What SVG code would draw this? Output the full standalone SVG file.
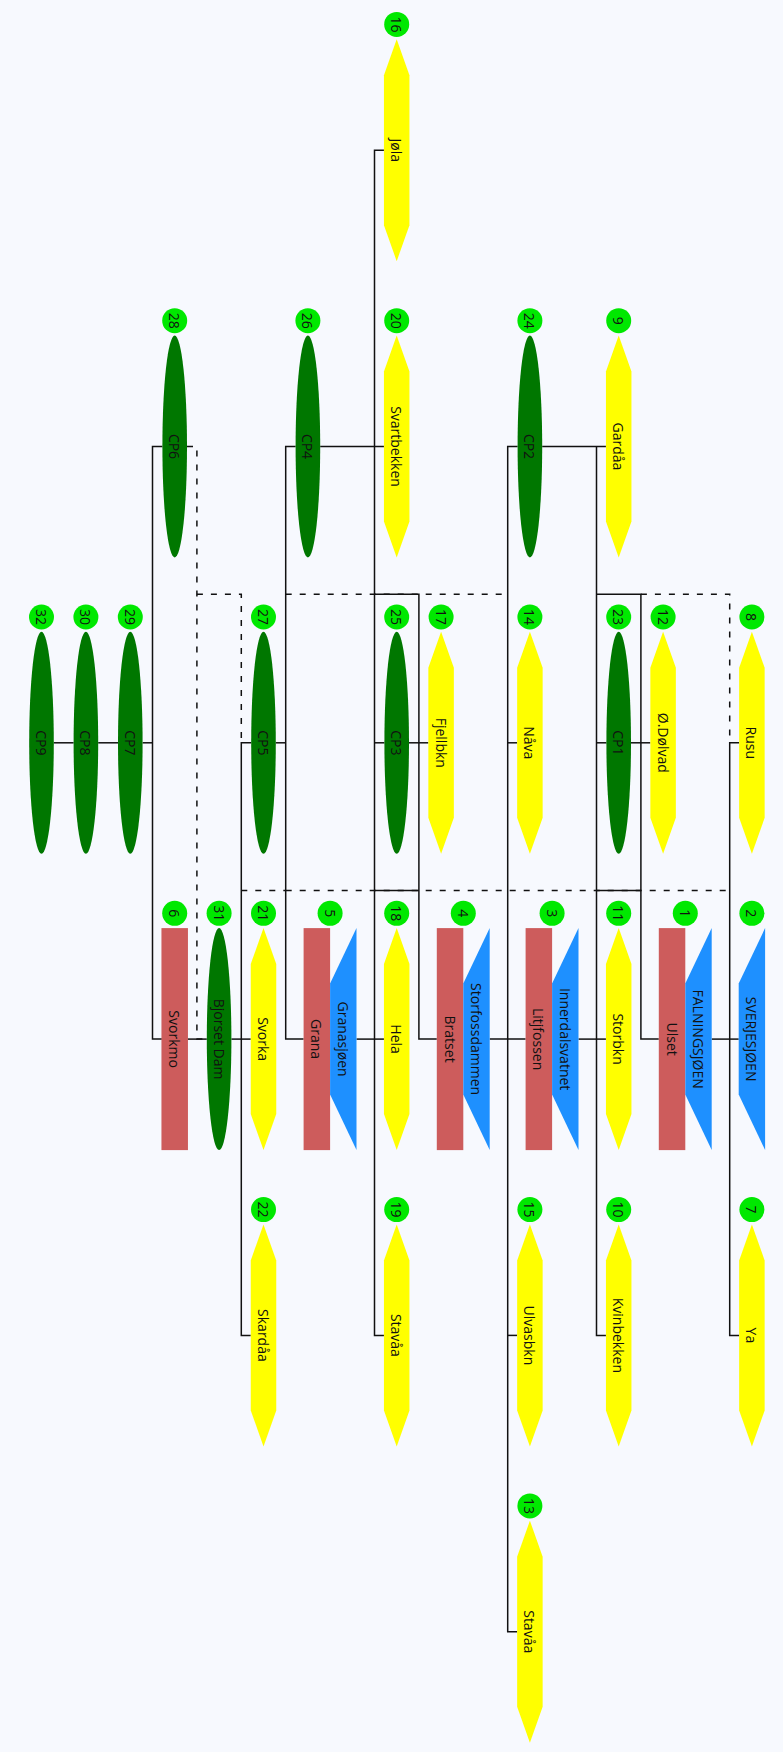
<svg xmlns="http://www.w3.org/2000/svg" xmlns:xlink="http://www.w3.org/1999/xlink" width="783" height="1752" viewBox="0 0 783 1752">
  <style>
    .bg { fill: #F7F9FE; }
    .river { fill: #FFFF00; }
    .cp { fill: #007700; }
    .plant { fill: #CD5C5C; }
    .res { fill: #1E90FF; }
    .tag { fill: #00E800; }
    text { font-family: "Open Sans", "Liberation Sans", sans-serif; fill: #111; text-anchor: middle; dominant-baseline: central; }
    .lbl { font-size: 14px; }
    .num { font-size: 14px; }
    .solid { fill: none; stroke: #111; stroke-width: 1.5; }
    .dash { fill: none; stroke: #111; stroke-width: 1.5; stroke-dasharray: 6 8; }
  </style>
  <defs>
    <!-- shapes are defined around their own centre -->
    <polygon id="hex" points="0,-111 12.75,-75 12.75,75 0,111 -12.75,75 -12.75,-75"/>
    <polygon id="trap" points="13.2,-111 13.2,111 -13.2,55.5 -13.2,-55.5"/>
    <rect id="box" x="-13.25" y="-111" width="26.5" height="222"/>
    <ellipse id="oval" cx="0" cy="0" rx="12.3" ry="111"/>
    <circle id="badge" cx="0" cy="0" r="12.5"/>
  </defs>

  <rect class="bg" x="0" y="0" width="783" height="1752"/>

  <!-- connectors -->
  <g id="connectors">
    <path class="solid" d="M53.8,742.8 H73.6"/>
    <path class="solid" d="M98.2,742.8 H118"/>
    <path class="solid" d="M142.6,742.8 H152.5"/>
    <path class="solid" d="M162.4,446.5 H152.5 V1039.1 H161.9"/>
    <path class="solid" d="M187.5,1039.1 H206.8"/>
    <path class="solid" d="M231.4,1039.1 H250.75"/>
    <path class="solid" d="M251.2,742.8 H241.3 V1335.4 H250.75"/>
    <path class="solid" d="M275.8,742.8 H285.7"/>
    <path class="solid" d="M295.6,446.5 H285.7 V1039.1 H303.6"/>
    <path class="solid" d="M320.2,446.5 H383.95"/>
    <path class="solid" d="M383.95,150.2 H374.5 V1335.4 H383.95"/>
    <path class="solid" d="M384.4,742.8 H374.5"/>
    <path class="solid" d="M356.5,1039.1 H383.95"/>
    <path class="solid" d="M374.5,594.3 H418.9 V1039.1 H436.8"/>
    <path class="solid" d="M374.5,890.6 H418.9"/>
    <path class="solid" d="M409,742.8 H428.35"/>
    <path class="solid" d="M517.6,446.5 H507.7 V1631.7 H517.15"/>
    <path class="solid" d="M542.2,446.5 H605.95"/>
    <path class="solid" d="M517.15,742.8 H507.7"/>
    <path class="solid" d="M489.7,1039.1 H525.6"/>
    <path class="solid" d="M517.15,1335.4 H507.7"/>
    <path class="solid" d="M596.5,446.5 V1335.4 H605.95"/>
    <path class="solid" d="M606.4,742.8 H596.5"/>
    <path class="solid" d="M578.5,1039.1 H605.95"/>
    <path class="solid" d="M596.5,594.3 H640.9 V1039.1 H658.8"/>
    <path class="solid" d="M596.5,890.6 H640.9"/>
    <path class="solid" d="M631,742.8 H650.35"/>
    <path class="solid" d="M739.15,742.8 H729.7 V1335.4 H739.15"/>
    <path class="solid" d="M711.7,1039.1 H738.7"/>

    <path class="dash" d="M187,446.5 H196.9 V1039.1 H206.8"/>
    <path class="dash" d="M196.9,594.3 H241.3 V742.8"/>
    <path class="dash" d="M285.7,594.3 H507.7"/>
    <path class="dash" d="M640.9,594.3 H729.7 V742.8"/>
    <path class="dash" d="M241.3,890.6 H285.7"/>
    <path class="dash" d="M285.7,890.6 H729.7"/>
  </g>

  <!-- row 0 -->
  <g id="n16">
    <use xlink:href="#hex" class="river" x="396.7" y="150.2"/>
    <use xlink:href="#badge" class="tag" x="396.7" y="24.4"/>
    <text class="num" transform="translate(396.7,24.4) rotate(90)">16</text>
    <text class="lbl" transform="translate(396.7,150.2) rotate(90)">Jøla</text>
  </g>

  <!-- row 1 -->
  <g id="n28">
    <use xlink:href="#oval" class="cp" x="174.7" y="446.5"/>
    <use xlink:href="#badge" class="tag" x="174.7" y="320.7"/>
    <text class="num" transform="translate(174.7,320.7) rotate(90)">28</text>
    <text class="lbl" transform="translate(174.7,446.5) rotate(90)">CP6</text>
  </g>
  <g id="n26">
    <use xlink:href="#oval" class="cp" x="307.9" y="446.5"/>
    <use xlink:href="#badge" class="tag" x="307.9" y="320.7"/>
    <text class="num" transform="translate(307.9,320.7) rotate(90)">26</text>
    <text class="lbl" transform="translate(307.9,446.5) rotate(90)">CP4</text>
  </g>
  <g id="n20">
    <use xlink:href="#hex" class="river" x="396.7" y="446.5"/>
    <use xlink:href="#badge" class="tag" x="396.7" y="320.7"/>
    <text class="num" transform="translate(396.7,320.7) rotate(90)">20</text>
    <text class="lbl" transform="translate(396.7,446.5) rotate(90)">Svartbekken</text>
  </g>
  <g id="n24">
    <use xlink:href="#oval" class="cp" x="529.9" y="446.5"/>
    <use xlink:href="#badge" class="tag" x="529.9" y="320.7"/>
    <text class="num" transform="translate(529.9,320.7) rotate(90)">24</text>
    <text class="lbl" transform="translate(529.9,446.5) rotate(90)">CP2</text>
  </g>
  <g id="n9">
    <use xlink:href="#hex" class="river" x="618.7" y="446.5"/>
    <use xlink:href="#badge" class="tag" x="618.7" y="320.7"/>
    <text class="num" transform="translate(618.7,320.7) rotate(90)">9</text>
    <text class="lbl" transform="translate(618.7,446.5) rotate(90)">Gardåa</text>
  </g>

  <!-- row 2 -->
  <g id="n32">
    <use xlink:href="#oval" class="cp" x="41.5" y="742.8"/>
    <use xlink:href="#badge" class="tag" x="41.5" y="617"/>
    <text class="num" transform="translate(41.5,617) rotate(90)">32</text>
    <text class="lbl" transform="translate(41.5,742.8) rotate(90)">CP9</text>
  </g>
  <g id="n30">
    <use xlink:href="#oval" class="cp" x="85.9" y="742.8"/>
    <use xlink:href="#badge" class="tag" x="85.9" y="617"/>
    <text class="num" transform="translate(85.9,617) rotate(90)">30</text>
    <text class="lbl" transform="translate(85.9,742.8) rotate(90)">CP8</text>
  </g>
  <g id="n29">
    <use xlink:href="#oval" class="cp" x="130.3" y="742.8"/>
    <use xlink:href="#badge" class="tag" x="130.3" y="617"/>
    <text class="num" transform="translate(130.3,617) rotate(90)">29</text>
    <text class="lbl" transform="translate(130.3,742.8) rotate(90)">CP7</text>
  </g>
  <g id="n27">
    <use xlink:href="#oval" class="cp" x="263.5" y="742.8"/>
    <use xlink:href="#badge" class="tag" x="263.5" y="617"/>
    <text class="num" transform="translate(263.5,617) rotate(90)">27</text>
    <text class="lbl" transform="translate(263.5,742.8) rotate(90)">CP5</text>
  </g>
  <g id="n25">
    <use xlink:href="#oval" class="cp" x="396.7" y="742.8"/>
    <use xlink:href="#badge" class="tag" x="396.7" y="617"/>
    <text class="num" transform="translate(396.7,617) rotate(90)">25</text>
    <text class="lbl" transform="translate(396.7,742.8) rotate(90)">CP3</text>
  </g>
  <g id="n17">
    <use xlink:href="#hex" class="river" x="441.1" y="742.8"/>
    <use xlink:href="#badge" class="tag" x="441.1" y="617"/>
    <text class="num" transform="translate(441.1,617) rotate(90)">17</text>
    <text class="lbl" transform="translate(441.1,742.8) rotate(90)">Fjellbkn</text>
  </g>
  <g id="n14">
    <use xlink:href="#hex" class="river" x="529.9" y="742.8"/>
    <use xlink:href="#badge" class="tag" x="529.9" y="617"/>
    <text class="num" transform="translate(529.9,617) rotate(90)">14</text>
    <text class="lbl" transform="translate(529.9,742.8) rotate(90)">Nåva</text>
  </g>
  <g id="n23">
    <use xlink:href="#oval" class="cp" x="618.7" y="742.8"/>
    <use xlink:href="#badge" class="tag" x="618.7" y="617"/>
    <text class="num" transform="translate(618.7,617) rotate(90)">23</text>
    <text class="lbl" transform="translate(618.7,742.8) rotate(90)">CP1</text>
  </g>
  <g id="n12">
    <use xlink:href="#hex" class="river" x="663.1" y="742.8"/>
    <use xlink:href="#badge" class="tag" x="663.1" y="617"/>
    <text class="num" transform="translate(663.1,617) rotate(90)">12</text>
    <text class="lbl" transform="translate(663.1,742.8) rotate(90)">Ø.Dølvad</text>
  </g>
  <g id="n8">
    <use xlink:href="#hex" class="river" x="751.9" y="742.8"/>
    <use xlink:href="#badge" class="tag" x="751.9" y="617"/>
    <text class="num" transform="translate(751.9,617) rotate(90)">8</text>
    <text class="lbl" transform="translate(751.9,742.8) rotate(90)">Rusu</text>
  </g>

  <!-- row 3 -->
  <g id="n6">
    <use xlink:href="#box" class="plant" x="174.7" y="1039.1"/>
    <use xlink:href="#badge" class="tag" x="174.7" y="913.3"/>
    <text class="num" transform="translate(174.7,913.3) rotate(90)">6</text>
    <text class="lbl" transform="translate(174.7,1039.1) rotate(90)">Svorkmo</text>
  </g>
  <g id="n31">
    <use xlink:href="#oval" class="cp" x="219.1" y="1039.1"/>
    <use xlink:href="#badge" class="tag" x="219.1" y="913.3"/>
    <text class="num" transform="translate(219.1,913.3) rotate(90)">31</text>
    <text class="lbl" transform="translate(219.1,1039.1) rotate(90)">Bjorset Dam</text>
  </g>
  <g id="n21">
    <use xlink:href="#hex" class="river" x="263.5" y="1039.1"/>
    <use xlink:href="#badge" class="tag" x="263.5" y="913.3"/>
    <text class="num" transform="translate(263.5,913.3) rotate(90)">21</text>
    <text class="lbl" transform="translate(263.5,1039.1) rotate(90)">Svorka</text>
  </g>
  <g id="n5">
    <use xlink:href="#box" class="plant" x="316.85" y="1039.1"/>
    <use xlink:href="#trap" class="res" x="343.3" y="1039.1"/>
    <use xlink:href="#badge" class="tag" x="330.1" y="913.3"/>
    <text class="num" transform="translate(330.1,913.3) rotate(90)">5</text>
    <text class="lbl" transform="translate(316.85,1039.1) rotate(90)">Grana</text>
    <text class="lbl" transform="translate(343.3,1039.1) rotate(90)">Granasjøen</text>
  </g>
  <g id="n18">
    <use xlink:href="#hex" class="river" x="396.7" y="1039.1"/>
    <use xlink:href="#badge" class="tag" x="396.7" y="913.3"/>
    <text class="num" transform="translate(396.7,913.3) rotate(90)">18</text>
    <text class="lbl" transform="translate(396.7,1039.1) rotate(90)">Hela</text>
  </g>
  <g id="n4">
    <use xlink:href="#box" class="plant" x="450.05" y="1039.1"/>
    <use xlink:href="#trap" class="res" x="476.5" y="1039.1"/>
    <use xlink:href="#badge" class="tag" x="463.3" y="913.3"/>
    <text class="num" transform="translate(463.3,913.3) rotate(90)">4</text>
    <text class="lbl" transform="translate(450.05,1039.1) rotate(90)">Bratset</text>
    <text class="lbl" transform="translate(476.5,1039.1) rotate(90)">Storfossdammen</text>
  </g>
  <g id="n3">
    <use xlink:href="#box" class="plant" x="538.85" y="1039.1"/>
    <use xlink:href="#trap" class="res" x="565.3" y="1039.1"/>
    <use xlink:href="#badge" class="tag" x="552.1" y="913.3"/>
    <text class="num" transform="translate(552.1,913.3) rotate(90)">3</text>
    <text class="lbl" transform="translate(538.85,1039.1) rotate(90)">Litjfossen</text>
    <text class="lbl" transform="translate(565.3,1039.1) rotate(90)">Innerdalsvatnet</text>
  </g>
  <g id="n11">
    <use xlink:href="#hex" class="river" x="618.7" y="1039.1"/>
    <use xlink:href="#badge" class="tag" x="618.7" y="913.3"/>
    <text class="num" transform="translate(618.7,913.3) rotate(90)">11</text>
    <text class="lbl" transform="translate(618.7,1039.1) rotate(90)">Storbkn</text>
  </g>
  <g id="n1">
    <use xlink:href="#box" class="plant" x="672.05" y="1039.1"/>
    <use xlink:href="#trap" class="res" x="698.5" y="1039.1"/>
    <use xlink:href="#badge" class="tag" x="685.3" y="913.3"/>
    <text class="num" transform="translate(685.3,913.3) rotate(90)">1</text>
    <text class="lbl" transform="translate(672.05,1039.1) rotate(90)">Ulset</text>
    <text class="lbl" transform="translate(698.5,1039.1) rotate(90)">FALNINGSJØEN</text>
  </g>
  <g id="n2">
    <use xlink:href="#trap" class="res" x="751.9" y="1039.1"/>
    <use xlink:href="#badge" class="tag" x="751.9" y="913.3"/>
    <text class="num" transform="translate(751.9,913.3) rotate(90)">2</text>
    <text class="lbl" transform="translate(751.9,1039.1) rotate(90)">SVERJESJØEN</text>
  </g>

  <!-- row 4 -->
  <g id="n22">
    <use xlink:href="#hex" class="river" x="263.5" y="1335.4"/>
    <use xlink:href="#badge" class="tag" x="263.5" y="1209.6"/>
    <text class="num" transform="translate(263.5,1209.6) rotate(90)">22</text>
    <text class="lbl" transform="translate(263.5,1335.4) rotate(90)">Skardåa</text>
  </g>
  <g id="n19">
    <use xlink:href="#hex" class="river" x="396.7" y="1335.4"/>
    <use xlink:href="#badge" class="tag" x="396.7" y="1209.6"/>
    <text class="num" transform="translate(396.7,1209.6) rotate(90)">19</text>
    <text class="lbl" transform="translate(396.7,1335.4) rotate(90)">Stavåa</text>
  </g>
  <g id="n15">
    <use xlink:href="#hex" class="river" x="529.9" y="1335.4"/>
    <use xlink:href="#badge" class="tag" x="529.9" y="1209.6"/>
    <text class="num" transform="translate(529.9,1209.6) rotate(90)">15</text>
    <text class="lbl" transform="translate(529.9,1335.4) rotate(90)">Ulvasbkn</text>
  </g>
  <g id="n10">
    <use xlink:href="#hex" class="river" x="618.7" y="1335.4"/>
    <use xlink:href="#badge" class="tag" x="618.7" y="1209.6"/>
    <text class="num" transform="translate(618.7,1209.6) rotate(90)">10</text>
    <text class="lbl" transform="translate(618.7,1335.4) rotate(90)">Kvinbekken</text>
  </g>
  <g id="n7">
    <use xlink:href="#hex" class="river" x="751.9" y="1335.4"/>
    <use xlink:href="#badge" class="tag" x="751.9" y="1209.6"/>
    <text class="num" transform="translate(751.9,1209.6) rotate(90)">7</text>
    <text class="lbl" transform="translate(751.9,1335.4) rotate(90)">Ya</text>
  </g>

  <!-- row 5 -->
  <g id="n13">
    <use xlink:href="#hex" class="river" x="529.9" y="1631.7"/>
    <use xlink:href="#badge" class="tag" x="529.9" y="1505.9"/>
    <text class="num" transform="translate(529.9,1505.9) rotate(90)">13</text>
    <text class="lbl" transform="translate(529.9,1631.7) rotate(90)">Stavåa</text>
  </g>
</svg>
